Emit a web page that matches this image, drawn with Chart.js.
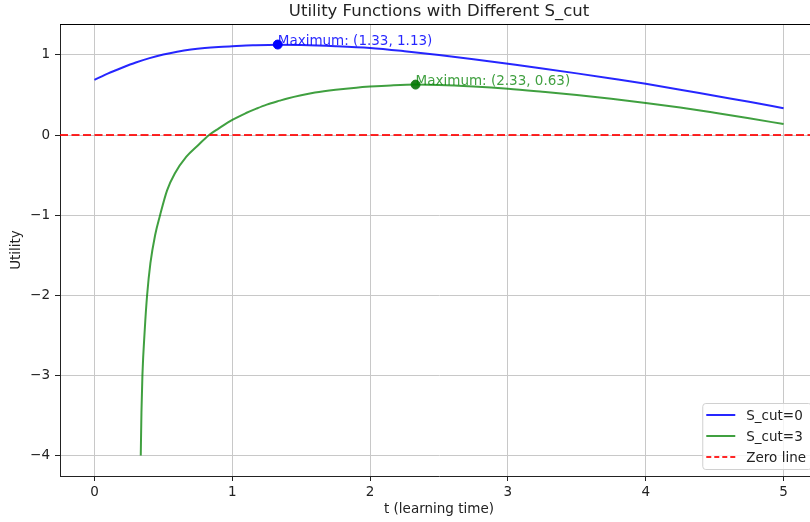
<!DOCTYPE html>
<html>
<head>
<meta charset="utf-8">
<title>Utility Functions with Different S_cut</title>
<script src="https://cdn.jsdelivr.net/npm/chart.js@4.4.1/dist/chart.umd.min.js"></script>
<style>
  html, body { margin: 0; padding: 0; background: #fff; overflow: hidden; }
  #wrap { width: 830px; height: 522px; }
</style>
</head>
<body>
<div id="wrap"><canvas id="chart" width="830" height="522"></canvas></div>
<script>
// values
const tCut0 = [0, 0.1, 0.2, 0.3, 0.4, 0.5, 0.6, 0.7, 0.8, 0.9, 1.0, 1.15, 1.33, 1.5, 1.75, 2.0, 2.25, 2.5, 2.75, 3.0, 3.25, 3.5, 3.75, 4.0, 4.25, 4.5, 4.75, 5.0];
const uCut0 = [0.69, 0.77, 0.84, 0.905, 0.96, 1.005, 1.04, 1.067, 1.086, 1.099, 1.108, 1.12, 1.128, 1.125, 1.11, 1.087, 1.047, 1.0, 0.947, 0.89, 0.832, 0.77, 0.706, 0.64, 0.567, 0.49, 0.415, 0.336];

const tCut3 = [0.336, 0.341, 0.348, 0.365, 0.382, 0.406, 0.44, 0.476, 0.527, 0.583, 0.667, 0.75, 0.832, 0.9, 1.0, 1.1, 1.175, 1.25, 1.345, 1.4, 1.5, 1.6, 1.75, 1.9, 2.0, 2.15, 2.33, 2.5, 2.75, 3.0, 3.25, 3.5, 3.75, 4.0, 4.25, 4.5, 4.75, 5.0];
const uCut3 = [-4.0, -3.46, -3.0, -2.43, -2.0, -1.6, -1.25, -1.0, -0.69, -0.48, -0.27, -0.13, 0.0, 0.08, 0.19, 0.275, 0.33, 0.38, 0.43, 0.457, 0.497, 0.53, 0.565, 0.592, 0.605, 0.62, 0.63, 0.625, 0.605, 0.577, 0.54, 0.50, 0.453, 0.401, 0.343, 0.278, 0.21, 0.137];

const maxT = [1.33, 2.33];
const maxU = [1.13, 0.63];

const seriesLabels = ['S_cut=0', 'S_cut=3'];
const zeroLabel = 'Zero line';
const zeroLevel = 0;

const xTicks = [0, 1, 2, 3, 4, 5];
const yTicks = [-4, -3, -2, -1, 0, 1];

const FONT = "'DejaVu Sans', sans-serif";
const lineColors = ['rgba(0,0,255,0.85)', 'rgba(0,128,0,0.75)'];
const dotColors = ['#0000ff', '#1f7f1f'];
const zeroColor = 'rgba(255,0,0,0.85)';
const zeroDash = [8, 3.5];

function pts(xs, ys) {
  return xs.map((x, i) => ({ x: x, y: ys[i] }));
}

function fmt(v) {
  return v < 0 ? '\u2212' + Math.abs(v) : String(v);
}

// zero line, annotations, frame and legend
const extras = {
  id: 'extras',
  afterDatasetsDraw(chart) {
    const ctx = chart.ctx;
    const a = chart.chartArea;
    const xs = chart.scales.x;
    const ys = chart.scales.y;

    // dashed zero line across the axes
    const yz = ys.getPixelForValue(zeroLevel);
    ctx.save();
    ctx.beginPath();
    ctx.rect(a.left, a.top, a.right - a.left, a.bottom - a.top);
    ctx.clip();
    ctx.strokeStyle = zeroColor;
    ctx.lineWidth = 2;
    ctx.setLineDash(zeroDash);
    ctx.beginPath();
    ctx.moveTo(a.left, yz);
    ctx.lineTo(a.right, yz);
    ctx.stroke();
    ctx.restore();

    // maximum labels
    ctx.save();
    ctx.font = '13.5px ' + FONT;
    ctx.textAlign = 'left';
    ctx.textBaseline = 'alphabetic';
    maxT.forEach((t, i) => {
      const px = xs.getPixelForValue(t);
      const py = ys.getPixelForValue(maxU[i]);
      ctx.fillStyle = lineColors[i];
      ctx.fillText(`Maximum: (${t.toFixed(2)}, ${maxU[i].toFixed(2)})`, px, py);
    });
    ctx.restore();

    // top and right spines
    ctx.save();
    ctx.strokeStyle = '#000';
    ctx.lineWidth = 1;
    ctx.beginPath();
    ctx.moveTo(a.left, a.top + 0.5);
    ctx.lineTo(a.right, a.top + 0.5);
    ctx.lineTo(a.right - 0.5, a.bottom);
    ctx.stroke();
    ctx.restore();

    // legend, lower right inside the axes
    const entries = [
      { label: seriesLabels[0], color: lineColors[0], dash: [] },
      { label: seriesLabels[1], color: lineColors[1], dash: [] },
      { label: zeroLabel, color: zeroColor, dash: [5, 3] }
    ];
    ctx.save();
    ctx.font = '13.5px ' + FONT;
    const textW = Math.max(...entries.map(e => ctx.measureText(e.label).width));
    const rowH = 21;
    const boxW = 4 + 29 + 11 + textW + 5;
    const boxH = entries.length * rowH + 3;
    const right = a.right - 7;
    const bottom = a.bottom - 7;
    const left = right - boxW;
    const top = bottom - boxH;
    ctx.fillStyle = 'rgba(255,255,255,0.8)';
    ctx.strokeStyle = '#d0d0d0';
    ctx.lineWidth = 1;
    ctx.beginPath();
    ctx.roundRect(left + 0.5, top + 0.5, boxW, boxH, 3);
    ctx.fill();
    ctx.stroke();
    entries.forEach((e, i) => {
      const cy = top + 12 + i * rowH;
      ctx.strokeStyle = e.color;
      ctx.lineWidth = 2;
      ctx.setLineDash(e.dash);
      ctx.beginPath();
      ctx.moveTo(left + 4, cy);
      ctx.lineTo(left + 33, cy);
      ctx.stroke();
      ctx.setLineDash([]);
      ctx.fillStyle = '#222';
      ctx.textAlign = 'left';
      ctx.textBaseline = 'middle';
      ctx.fillText(e.label, left + 44, cy + 1);
    });
    ctx.restore();
  },
  afterDraw(chart) {
    const ctx = chart.ctx;
    const a = chart.chartArea;
    ctx.save();
    ctx.font = '16.5px ' + FONT;
    ctx.fillStyle = '#222';
    ctx.textAlign = 'center';
    ctx.textBaseline = 'middle';
    ctx.fillText('Utility Functions with Different S_cut', (a.left + a.right) / 2, 12);
    ctx.restore();
  }
};

new Chart(document.getElementById('chart'), {
  type: 'scatter',
  data: {
    datasets: [
      {
        label: seriesLabels[0],
        data: pts(tCut0, uCut0),
        showLine: true,
        borderColor: lineColors[0],
        borderWidth: 2,
        pointRadius: 0,
        cubicInterpolationMode: 'monotone'
      },
      {
        label: seriesLabels[1],
        data: pts(tCut3, uCut3),
        showLine: true,
        borderColor: lineColors[1],
        borderWidth: 2,
        pointRadius: 0,
        cubicInterpolationMode: 'monotone'
      },
      {
        label: 'max0',
        data: pts([maxT[0]], [maxU[0]]),
        pointRadius: 4.5,
        pointBackgroundColor: dotColors[0],
        pointBorderColor: dotColors[0]
      },
      {
        label: 'max3',
        data: pts([maxT[1]], [maxU[1]]),
        pointRadius: 4.5,
        pointBackgroundColor: dotColors[1],
        pointBorderColor: dotColors[1]
      }
    ]
  },
  options: {
    responsive: false,
    animation: false,
    layout: { padding: { left: 0, top: 24, right: 12, bottom: 0 } },
    plugins: {
      legend: { display: false },
      tooltip: { enabled: false },
      title: { display: false }
    },
    scales: {
      x: {
        type: 'linear',
        min: -0.25,
        max: 5.25,
        afterBuildTicks: s => { s.ticks = xTicks.map(v => ({ value: v })); },
        afterFit: s => { s.height = 46; },
        ticks: {
          color: '#222',
          font: { family: FONT, size: 13.5 },
          padding: 3,
          maxRotation: 0,
          callback: v => fmt(v)
        },
        grid: { color: '#c8c8c8', lineWidth: 1, tickColor: '#222', tickLength: 5 },
        border: { color: '#222', width: 1 },
        title: {
          display: true,
          text: 't (learning time)',
          color: '#222',
          font: { family: FONT, size: 13.5 },
          padding: { top: 4, bottom: 4 }
        }
      },
      y: {
        type: 'linear',
        min: -4.2565,
        max: 1.3865,
        afterBuildTicks: s => { s.ticks = yTicks.map(v => ({ value: v })); },
        afterFit: s => { s.width = 60; },
        ticks: {
          color: '#222',
          font: { family: FONT, size: 13.5 },
          padding: 5,
          callback: v => fmt(v)
        },
        grid: { color: '#c8c8c8', lineWidth: 1, tickColor: '#222', tickLength: 5 },
        border: { color: '#222', width: 1 },
        title: {
          display: true,
          text: 'Utility',
          color: '#222',
          font: { family: FONT, size: 13.5 },
          padding: { top: 8, bottom: 8 }
        }
      }
    }
  },
  plugins: [extras]
});
</script>
</body>
</html>
